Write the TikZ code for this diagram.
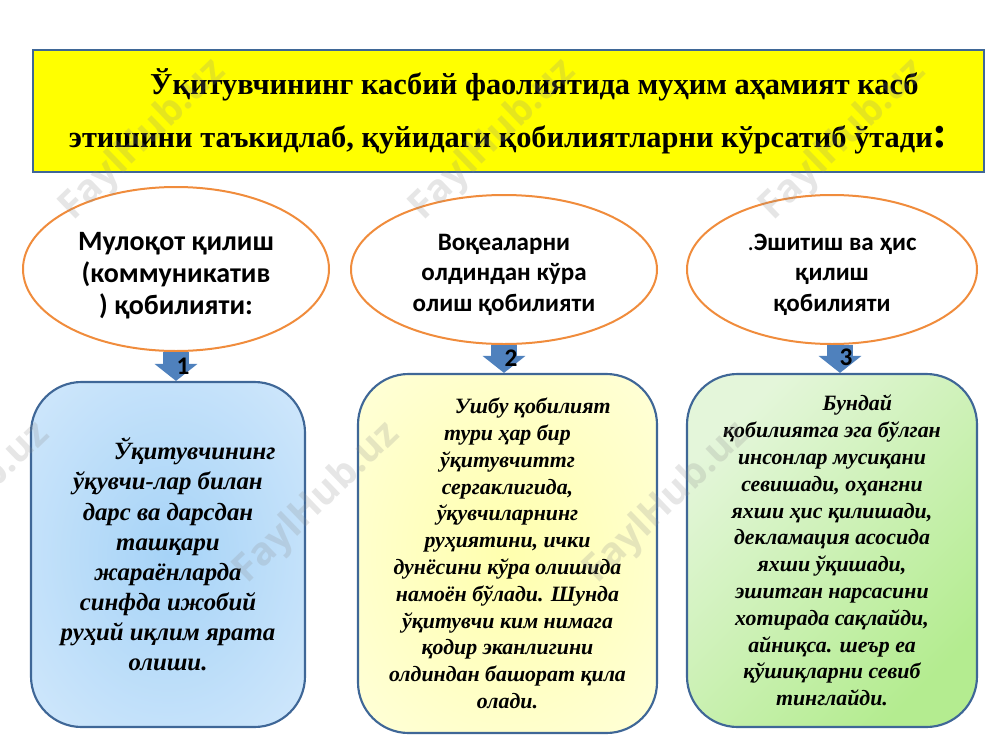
\documentclass[tikz,border=0pt]{standalone}
\usepackage{fontspec}
\setmainfont{Liberation Serif}
\newfontfamily\capfont{Carlito}
\newfontfamily\markfont{Open Sans}
\usetikzlibrary{shapes.geometric,arrows.meta}
\definecolor{edgeblue}{HTML}{3F6797}
\definecolor{arrowblue}{HTML}{4F81BD}
\definecolor{ringorange}{HTML}{F08C3C}
\definecolor{headyellow}{HTML}{FFFF00}
\definecolor{skyin}{HTML}{A6D3F7}
\definecolor{skyout}{HTML}{E2F0FD}
\definecolor{creamin}{HTML}{FFFFAE}
\definecolor{creamout}{HTML}{FFFFEA}
\definecolor{leafdark}{HTML}{B4EC90}
\definecolor{leaflight}{HTML}{E4F6DA}
\pgfdeclareradialshading{skyglow}{\pgfpoint{0bp}{0bp}}{color(0bp)=(skyin); color(50bp)=(skyout)}
\pgfdeclareradialshading{creamglow}{\pgfpoint{0bp}{0bp}}{color(0bp)=(creamin); color(50bp)=(creamout)}
\tikzset{
	headbox/.style={draw=edgeblue, line width=1.5pt, fill=headyellow, align=center, minimum width=713pt, minimum height=91.5pt, inner sep=0pt, font=\fontsize{22.8}{39.8}\selectfont\bfseries},
	ring/.style={ellipse, draw=ringorange, line width=1.5pt, fill=white, align=center, inner sep=0pt, font=\capfont\bfseries\fontsize{18.8}{22.8}\selectfont},
	infobox/.style={draw=edgeblue, line width=1.6pt, rounded corners=38pt, align=center, inner sep=0pt, font=\bfseries\itshape\fontsize{16.4}{20.1}\selectfont},
	blockarrow/.style={draw=arrowblue, line width=19.5pt, -{Triangle[length=12.75pt,width=31.5pt]}},
	numlabel/.style={font=\capfont\bfseries\fontsize{19}{22}\selectfont, inner sep=0pt},
	wmark/.style={font=\markfont\bfseries\fontsize{29}{34}\selectfont, text=black!45, opacity=0.22, rotate=44, inner sep=0pt}
}
\begin{document}
\begin{tikzpicture}[x=0.75pt, y=-0.75pt]
\path[use as bounding box, clip] (0,0) rectangle (1000,750);

\node[headbox] (head) at (508.5,111) {\hspace*{39pt}Ўқитувчининг касбий фаолиятида муҳим аҳамият касб\\этишини таъкидлаб, қуйидаги қобилиятларни кўрсатиб ўтади{\fontsize{34}{39.8}\selectfont :}};

\node[ring, minimum width=229.5pt, minimum height=123pt, font=\capfont\bfseries\fontsize{21}{24}\selectfont] (e1) at (176,269) {\rule{0pt}{23pt}Мулоқот қилиш\\(коммуникатив\\) қобилияти:};
\node[ring, minimum width=229.5pt, minimum height=111.75pt] (e2) at (504,269.5) {\rule{0pt}{20pt}Воқеаларни\\олдиндан кўра\\олиш қобилияти};
\node[ring, minimum width=217.5pt, minimum height=111.75pt] (e3) at (832,269.5) {\rule{0pt}{20pt}{\mdseries .}Эшитиш ва ҳис\\қилиш\\қобилияти};

\node[infobox, minimum width=205.5pt, minimum height=258.75pt, shading=skyglow, font=\bfseries\itshape\fontsize{18.6}{22.6}\selectfont] (b1) at (168,554.5) {\hspace*{40pt}Ўқитувчининг\\ўқувчи-лар билан\\дарс ва дарсдан\\ташқари\\жараёнларда\\синфда ижобий\\руҳий иқлим ярата\\олиши.};
\node[infobox, minimum width=224.25pt, minimum height=269.25pt, shading=creamglow] (b2) at (507.5,553.5) {\hspace*{38pt}Ушбу қобилият\\тури ҳар бир\\ўқитувчиттг\\сергаклигида,\\ўқувчиларнинг\\руҳиятини, ички\\дунёсини кўра олишида\\намоён бўлади. Шунда\\ўқитувчи ким нимага\\қодир эканлигини\\олдиндан башорат қила\\олади.};
\node[infobox, minimum width=217.5pt, minimum height=264.75pt, left color=leafdark, right color=leaflight, shading angle=-135] (b3) at (832,550.5) {\hspace*{38pt}Бундай\\қобилиятга эга бўлган\\инсонлар мусиқани\\севишади, оҳангни\\яхши ҳис қилишади,\\декламация асосида\\яхши ўқишади,\\эшитган нарсасини\\хотирада сақлайди,\\айниқса. шеър еа\\қўшиқларни севиб\\тинглайди.};

\draw[blockarrow] (e1.south) -- (e1.south |- b1.north);
\draw[blockarrow] (e2.south) -- (e2.south |- b2.north);
\draw[blockarrow] ([xshift=6pt]e3.south) -- ([xshift=6pt]e3.south |- b3.north);

\node[numlabel] (n1) at (183,366) {1};
\node[numlabel] (n2) at (511,358) {2};
\node[numlabel] (n3) at (846,357) {3};

\node[wmark] (w1) at (143,140) {FaylHub.uz};
\node[wmark] (w2) at (493,140) {FaylHub.uz};
\node[wmark] (w3) at (843,140) {FaylHub.uz};
\node[wmark] (w4) at (-33,503) {FaylHub.uz};
\node[wmark] (w5) at (317,503) {FaylHub.uz};
\node[wmark] (w6) at (667,503) {FaylHub.uz};
\end{tikzpicture}
\end{document}
